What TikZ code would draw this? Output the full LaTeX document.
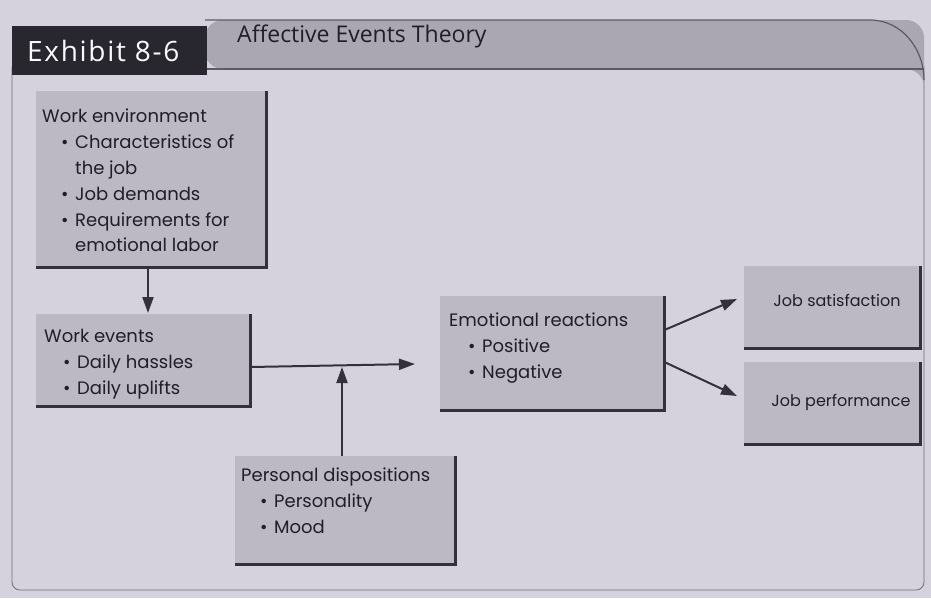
\documentclass[tikz,border=0pt]{standalone}
\usepackage{fontspec}
\usetikzlibrary{arrows.meta}
\setmainfont{Poppins}
\newfontfamily\headfont{Open Sans}
\newfontfamily\exhfont[LetterSpace=6]{Open Sans}
\newcommand\bitem[1]{\hspace*{19pt}\makebox[14pt][l]{\textbullet}#1}
\newcommand\bcont[1]{\hspace*{33pt}#1}
\begin{document}
\begin{tikzpicture}[x=1pt,y=-1pt,
  boxbg/.style={fill=boxfill, draw=none, inner sep=0pt, anchor=north west},
  boxedge/.style={draw=edgecol, line width=2.6pt},
  btext/.style={anchor=north west, align=left, inner sep=0pt, font=\fontsize{18}{25.8}\selectfont, text=textcol},
  conn/.style={draw=edgecol, line width=2pt, -{Triangle[length=16pt,width=11pt]}},
]
\definecolor{pagebg}{RGB}{213,209,221}
\definecolor{boxfill}{RGB}{188,184,196}
\definecolor{edgecol}{RGB}{52,49,60}
\definecolor{textcol}{RGB}{32,30,38}
\definecolor{bandcol}{RGB}{170,166,178}
\definecolor{darkbox}{RGB}{40,38,46}
\useasboundingbox (0,0) rectangle (931,598);
\fill[pagebg] (0,0) rectangle (931,598);
% frame
\draw[draw=edgecol!70, line width=0.8pt, rounded corners=8pt] (12,60) rectangle (924,590);
% header band
\fill[bandcol, rounded corners=18pt] (205,20) -- (924,20) -- (924,100) -- (924,69) -- (205,69) -- cycle;
\draw[edgecol!80, line width=1.2pt] (205,20) -- (870,20) to[out=0,in=90] (924,80);
\draw[edgecol!80, line width=1.4pt] (205,69) -- (924,69);
\node[fill=darkbox, minimum width=195pt, minimum height=49pt, anchor=north west, inner sep=0pt] (exhibit) at (12,26) {};
\node[anchor=west, inner sep=0pt, text=white!85!pagebg, font=\exhfont\fontsize{28}{32}\selectfont] (exhibitt) at (27,51) {Exhibit 8-6};
\node[anchor=west, inner sep=0pt, text=textcol, font=\headfont\fontsize{23}{26}\selectfont] (title) at (237,36) {Affective Events Theory};

% boxes
\node[boxbg, minimum width=230pt, minimum height=176pt] (env) at (36,91) {};
\draw[boxedge] (env.north east) -- (env.south east) -- (env.south west);
\node[btext] (envt) at (42,109) {Work environment\\
\bitem{Characteristics of}\\
\bcont{the job}\\
\bitem{Job demands}\\
\bitem{Requirements for}\\
\bcont{emotional labor}};

\node[boxbg, minimum width=214pt, minimum height=92pt] (events) at (36,314) {};
\draw[boxedge] (events.north east) -- (events.south east) -- (events.south west);
\node[btext] (eventst) at (44,329) {Work events\\
\bitem{Daily hassles}\\
\bitem{Daily uplifts}};

\node[boxbg, minimum width=220pt, minimum height=108pt] (disp) at (235,456) {};
\draw[boxedge] (disp.north east) -- (disp.south east) -- (disp.south west);
\node[btext] (dispt) at (241,468) {Personal dispositions\\
\bitem{Personality}\\
\bitem{Mood}};

\node[boxbg, minimum width=224pt, minimum height=114pt] (emo) at (440,296) {};
\draw[boxedge] (emo.north east) -- (emo.south east) -- (emo.south west);
\node[btext] (emot) at (449,313) {Emotional reactions\\
\bitem{Positive}\\
\bitem{Negative}};

\node[boxbg, minimum width=176pt, minimum height=82pt] (sat) at (744,266) {};
\draw[boxedge] (sat.north east) -- (sat.south east) -- (sat.south west);
\node[anchor=center, inner sep=0pt, text=textcol, font=\fontsize{16}{18}\selectfont] (satt) at (837,300) {Job satisfaction};

\node[boxbg, minimum width=176pt, minimum height=82pt] (perf) at (744,362) {};
\draw[boxedge] (perf.north east) -- (perf.south east) -- (perf.south west);
\node[anchor=center, inner sep=0pt, text=textcol, font=\fontsize{16}{18}\selectfont] (perft) at (841,402) {Job performance};

% connectors
\coordinate (envout) at (148,268);
\coordinate (eventsin) at (148,313);
\draw[conn] (envout) -- (eventsin);
\coordinate (join) at (342,367);
\coordinate (emoin) at (415,364);
\draw[conn] (events.east |- join) -- (emoin);
\draw[conn] (disp.north -| join) -- (join);
\coordinate (satin) at (737,299);
\coordinate (perfin) at (737,396);
\draw[conn] (emo.east |- 0,330) -- (satin);
\draw[conn] (emo.east |- 0,362) -- (perfin);
\end{tikzpicture}
\end{document}
